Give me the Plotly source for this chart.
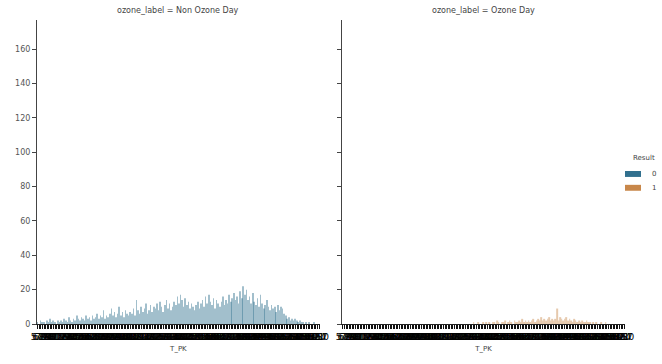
import plotly.graph_objects as go
from plotly.subplots import make_subplots

T_PK = ("5.2 6.0 6.7 7.3 7.9 8.4 8.8 9.3 9.7 10.1 10.5 10.9 11.2 11.6 11.9 "
        "12.2 12.5 12.8 13.1 13.4 13.7 13.9 14.2 14.4 14.7 14.9 15.2 15.4 15.6 15.8 "
        "16.0 16.2 16.4 16.6 16.8 17.0 17.2 17.4 17.5 17.7 17.9 18.0 18.2 18.4 18.5 "
        "18.7 18.8 19.0 19.1 19.3 19.4 19.6 19.7 19.9 20.0 20.1 20.3 20.4 20.5 20.7 "
        "20.8 20.9 21.1 21.2 21.3 21.4 21.6 21.7 21.8 21.9 22.0 22.2 22.3 22.4 22.5 "
        "22.6 22.7 22.8 22.9 23.0 23.1 23.2 23.3 23.4 23.5 23.6 23.7 23.8 23.9 24.0 "
        "24.1 24.2 24.3 24.4 24.5 24.6 24.7 24.8 24.9 25.0 25.1 25.2 25.3 25.4 25.5 "
        "25.6 25.7 25.8 25.9 26.0 26.1 26.2 26.3 26.4 26.5 26.6 26.7 26.8 26.9 27.0 "
        "27.1 27.2 27.3 27.4 27.5 27.6 27.7 27.8 27.9 28.0 28.1 28.2 28.3 28.4 28.5 "
        "28.6 28.7 28.8 28.9 29.0 29.1 29.2 29.3 29.4 29.5 29.6 29.7 29.8 29.9 30.0 "
        "30.2 30.4 30.6 30.8 31.0 31.2 31.4 31.6 31.8 32.0 32.3 32.6 32.9 33.2 33.5 "
        "33.8 34.1 34.4 34.7 35.0 35.3 35.6 35.9 36.2 36.5 36.8 37.1 37.4 37.7 38.0").split()

# Non Ozone Day, Result = 0
non_ozone_r0 = [
    1, 0, 2, 1, 1, 0, 2, 1, 3, 1, 2, 1, 0, 2, 1,
    2, 1, 3, 2, 1, 4, 2, 1, 3, 2, 5, 3, 2, 4, 3,
    2, 5, 3, 4, 2, 5, 3, 4, 6, 3, 5, 4, 8, 3, 5,
    4, 6, 9, 5, 7, 4, 6, 10, 5, 7, 4, 8, 6, 5, 7,
    6, 9, 5, 14, 8, 6, 10, 7, 9, 12, 6, 8, 11, 7, 10,
    9, 12, 8, 13, 10, 7, 11, 14, 9, 12, 8, 10, 13, 11, 16,
    12, 17, 14, 10, 15, 11, 13, 9, 12, 10, 8, 11, 13, 9, 12,
    14, 10, 16, 12, 17, 13, 11, 15, 9, 14, 12, 10, 13, 16, 11,
    14, 12, 17, 13, 15, 18, 14, 16, 12, 19, 15, 22, 17, 20, 14,
    16, 12, 18, 13, 11, 15, 10, 17, 12, 9, 11, 14, 10, 8, 11,
    9, 10, 7, 11, 8, 10, 9, 6, 5, 3, 4, 2, 3, 2, 3,
    2, 1, 2, 1, 1, 0, 1, 0, 1, 0, 0, 1, 0, 0, 0,
]

# Ozone Day, Result = 1
ozone_r1 = [
    0, 0, 0, 0, 0, 0, 0, 0, 0, 0, 0, 0, 0, 0, 0,
    0, 0, 0, 0, 0, 0, 0, 0, 0, 0, 0, 0, 0, 0, 0,
    0, 0, 0, 0, 0, 0, 0, 0, 0, 0, 0, 0, 0, 0, 0,
    0, 0, 0, 0, 0, 0, 0, 0, 0, 0, 0, 0, 0, 0, 0,
    0, 0, 0, 0, 0, 0, 0, 0, 0, 0, 0, 0, 0, 0, 0,
    0, 0, 0, 0, 0, 0, 0, 0, 1, 0, 0, 1, 0, 0, 1,
    0, 1, 0, 1, 0, 1, 1, 0, 2, 1, 0, 1, 1, 2, 0,
    1, 2, 1, 0, 2, 1, 1, 2, 1, 3, 1, 2, 1, 2, 1,
    2, 3, 1, 2, 3, 2, 4, 2, 3, 2, 3, 4, 2, 3, 2,
    3, 9, 2, 4, 3, 2, 3, 4, 2, 3, 2, 1, 3, 2, 1,
    2, 1, 2, 1, 1, 2, 1, 1, 0, 1, 0, 1, 0, 0, 1,
    0, 0, 1, 0, 0, 0, 0, 0, 0, 0, 0, 0, 0, 0, 0,
]

non_ozone_r1 = [0] * len(T_PK)
ozone_r0 = [0] * len(T_PK)

PANELS = ["ozone_label = Non Ozone Day", "ozone_label = Ozone Day"]
RESULTS = ["0", "1"]
COLORS = ["#31708e", "#c8874a"]
Y_TICKS = [0, 20, 40, 60, 80, 100, 120, 140, 160]

fig = make_subplots(rows=1, cols=2, shared_yaxes=True)

panel_data = [(non_ozone_r0, non_ozone_r1), (ozone_r0, ozone_r1)]
for c, (r0, r1) in enumerate(panel_data, start=1):
    for k, vals in enumerate((r0, r1)):
        fig.add_trace(go.Bar(x=T_PK, y=vals, name=RESULTS[k],
                             marker=dict(color=COLORS[k], opacity=0.45, line=dict(width=0)),
                             showlegend=False),
                      row=1, col=c)

font = "DejaVu Sans"
W, H = 662, 364
ML, MR, MT, MB = 37, 37, 20, 36
fig.update_layout(
    width=W, height=H,
    margin=dict(l=ML, r=MR, t=MT, b=MB),
    paper_bgcolor="white", plot_bgcolor="white",
    barmode="group", bargap=0.2, bargroupgap=0,
    font=dict(family=font, size=8, color="#444"),
    showlegend=False,
)

doms = [[0.0, 0.481], [0.519, 1.0]]
for i, ax in enumerate(["xaxis", "xaxis2"]):
    fig.layout[ax].update(
        domain=doms[i], type="category",
        tickmode="array", tickvals=T_PK, ticktext=T_PK, tickangle=0,
        ticks="outside", ticklen=4, tickcolor="#111", tickwidth=1,
        tickfont=dict(size=9, color="#000"),
        showline=True, linecolor="#222", linewidth=1,
        showgrid=False, zeroline=False,
        title=dict(text="T_PK", font=dict(size=7, color="#444"), standoff=5),
    )
for i, ax in enumerate(["yaxis", "yaxis2"]):
    fig.layout[ax].update(
        range=[0, 177], tickmode="array", tickvals=Y_TICKS,
        ticks="outside", ticklen=4, tickcolor="#444", tickwidth=1,
        showticklabels=(i == 0), tickfont=dict(size=8, color="#555"),
        showline=True, linecolor="#444", linewidth=1,
        showgrid=False, zeroline=False,
    )

for i, t in enumerate(PANELS):
    fig.add_annotation(text=t, x=sum(doms[i]) / 2, y=1.0, xref="paper", yref="paper",
                       xanchor="center", yanchor="bottom", yshift=3, showarrow=False,
                       font=dict(size=8, color="#444", family=font))

# manual legend (placed in pixel positions converted to paper coords)
pw, ph = W - ML - MR, H - MT - MB
def px(x):
    return (x - ML) / pw
def py(y):
    return (H - MB - y) / ph

fig.add_annotation(text="Result", x=px(631), y=py(160), xref="paper", yref="paper",
                   xanchor="left", yanchor="middle", showarrow=False,
                   font=dict(size=7, color="#444", family=font))
for k, (lab, col) in enumerate(zip(RESULTS, COLORS)):
    yc = 176 + 14 * k
    fig.add_shape(type="rect", xref="paper", yref="paper",
                  x0=px(625), x1=px(641), y0=py(yc - 3), y1=py(yc + 3),
                  fillcolor=col, line=dict(width=0))
    fig.add_annotation(text=lab, x=px(650), y=py(yc), xref="paper", yref="paper",
                       xanchor="left", yanchor="middle", showarrow=False,
                       font=dict(size=7, color="#444", family=font))

fig.write_html("out.html")
